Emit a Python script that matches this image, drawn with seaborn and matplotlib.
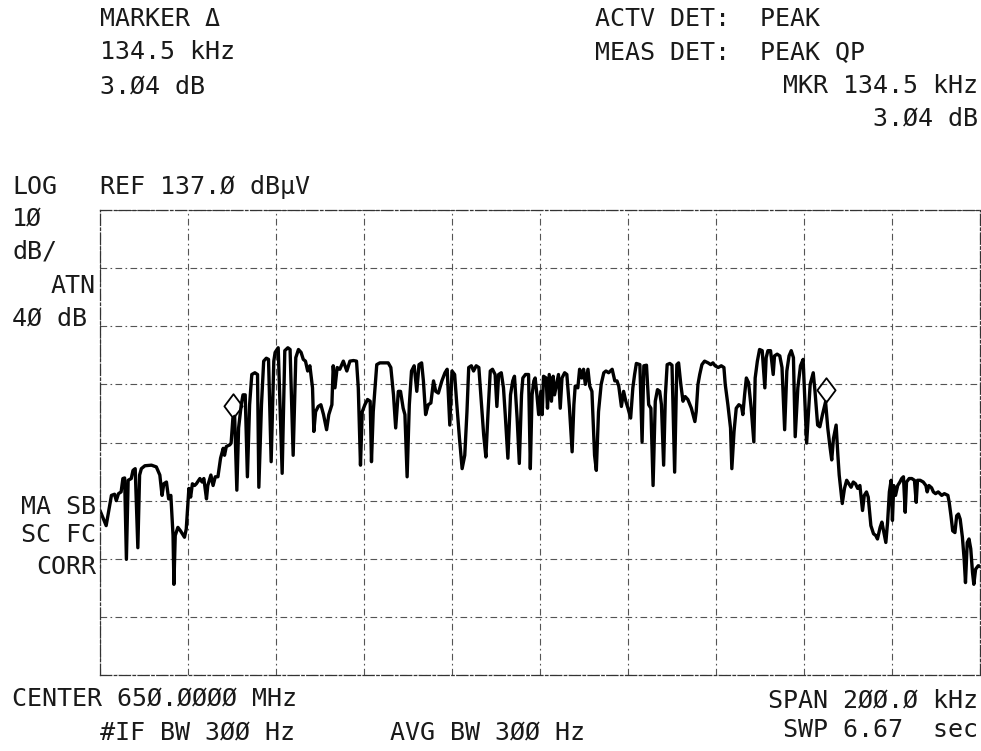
import numpy as np
import seaborn as sns
import matplotlib.pyplot as plt

sns.set_theme(style="white")
plt.rcParams['font.family'] = ['DejaVu Sans Mono', 'DejaVu Sans']

# trace: offset from centre [kHz] and level [dBuV]
freq_khz = [
    -100.0, -98.6, -97.4, -96.7, -96.3, -95.8, -95.2, -94.8, -94.4, -94.0,
    -93.6, -92.9, -92.5, -92.0, -91.4, -91.0, -90.6, -89.8, -88.3, -87.2,
    -86.4, -85.9, -85.5, -84.9, -84.4, -83.9, -83.4, -83.2, -82.9, -82.3,
    -81.7, -80.8, -80.4, -79.8, -79.4, -79.0, -78.5, -78.1, -77.3, -76.8,
    -76.4, -75.8, -75.5, -74.8, -74.3, -73.8, -73.2, -72.6, -72.0, -71.7,
    -71.3, -70.5, -70.2, -69.8, -69.4, -68.9, -68.5, -67.9, -67.5, -67.0,
    -66.5, -66.0, -65.5, -64.8, -64.2, -63.9, -63.3, -62.8, -62.2, -61.7,
    -61.1, -60.5, -60.2,
    -59.5, -58.6, -58.0, -57.3, -56.8, -56.1, -55.5, -54.9, -54.3, -53.8,
    -53.3, -52.8, -52.3, -51.7, -51.4, -51.0, -50.4, -49.8, -49.2, -48.5,
    -48.0, -47.3, -47.0, -46.6, -46.1, -45.5, -44.7, -43.9, -43.2, -42.4,
    -41.7, -41.3, -40.8, -40.4, -39.8, -39.2, -38.6, -38.3, -37.9, -37.1,
    -36.4, -34.5, -33.9, -33.3, -32.8, -32.2, -31.7, -31.1, -30.7, -30.2,
    -29.7, -29.2, -28.6, -28.0, -27.5, -26.9, -26.5, -26.0, -25.4, -24.8,
    -24.2, -23.7, -23.1, -22.3, -21.6, -21.1, -20.5,
    -20.0, -19.4, -18.9, -18.3, -17.7, -17.1, -16.6, -16.2, -15.6, -15.1,
    -14.5, -13.9, -13.3, -12.8, -12.3, -11.8, -11.3, -10.8, -10.2, -9.8,
    -9.4, -8.8, -8.3, -7.9, -7.3, -6.7, -6.2, -5.8, -5.2, -4.7,
    -4.2, -3.9, -3.3, -2.6, -2.2, -1.8, -1.4, -1.1, -0.7, -0.3,
    0.2, 0.5, 0.8, 1.4, 1.7, 2.1, 2.6, 3.0, 3.3, 3.9,
    4.2, 4.6, 5.0, 5.6, 6.1, 6.7, 7.3, 7.7, 8.0, 8.6,
    9.0, 9.5, 9.9, 10.3, 10.9, 11.3, 11.8, 12.4, 12.8, 13.3,
    13.9, 14.5, 15.0, 15.6, 16.4, 17.0, 17.5, 17.9, 18.5, 19.0, 19.5,
    20.0, 20.6, 21.1, 21.5, 21.9, 22.7, 23.2, 23.6, 24.2, 24.7,
    25.2, 25.7, 26.2, 26.7, 27.2, 27.6, 28.1, 28.5, 28.9, 29.5,
    30.0, 30.6, 31.1, 31.5, 32.0, 32.5, 33.0, 33.6, 34.4, 35.2,
    35.5, 35.9, 36.3, 36.8, 37.4, 38.2, 38.8, 39.3, 39.8, 40.5,
    41.2, 41.8, 42.1, 42.7, 43.3, 43.6, 44.1, 44.6, 45.2, 45.8,
    46.1, 46.5, 46.9, 47.4, 48.0, 48.6, 48.9, 49.4, 49.9, 50.5,
    51.1, 51.4, 51.8, 52.4, 53.0, 53.3, 53.9, 54.5, 55.0, 55.6,
    56.1, 56.6, 57.1, 57.6, 58.0, 58.6, 59.2, 59.8,
    60.6, 61.4, 62.1, 62.5, 63.1, 63.6, 64.2, 64.9, 65.4, 65.9,
    66.3, 66.7, 67.3, 67.7, 68.0, 68.7, 69.2, 69.7, 70.2, 70.7,
    71.2, 71.7, 72.2, 72.7, 73.3, 73.7, 74.2, 74.6, 75.2, 75.8,
    76.3, 76.7, 77.3, 77.7, 78.2, 78.6, 79.0, 79.4, 79.8, 80.1,
    80.4, 80.8, 81.3, 81.8, 82.2, 82.6, 83.0, 83.3, 83.9, 84.5,
    85.1, 85.5, 85.8, 86.4, 87.1, 87.7, 88.0, 88.4, 89.0, 89.4,
    89.9, 90.5, 91.3, 91.9, 92.7, 93.0, 93.4, 93.8, 94.3, 94.7,
    95.1, 95.5, 96.0, 96.4, 96.7, 97.1, 97.5, 97.9, 98.3, 98.6,
    99.0, 99.6, 100.0,
]
level_db = [
    85.3, 82.7, 87.9, 88.1, 87.0, 88.2, 88.5, 90.8, 90.9, 76.9,
    90.5, 90.8, 92.2, 92.5, 78.9, 91.4, 92.5, 93.0, 93.1, 92.8,
    91.4, 87.9, 89.9, 90.2, 87.3, 87.9, 81.0, 72.6, 81.0, 82.4,
    81.8, 80.7, 82.1, 89.1, 87.6, 89.9, 89.6, 89.9, 90.8, 90.2,
    90.8, 87.3, 89.6, 91.4, 89.6, 91.1, 91.1, 94.3, 96.0, 94.8,
    96.3, 96.6, 96.9, 101.2, 101.5, 88.8, 99.5, 103.5, 105.2, 105.2,
    91.1, 103.5, 108.7, 109.0, 108.7, 89.3, 103.5, 111.0, 111.5, 111.3,
    93.7, 111.0, 112.5,
    113.3, 91.7, 112.8, 113.3, 113.0, 94.8, 111.6, 113.0, 112.5, 111.3,
    111.0, 109.3, 110.2, 106.4, 98.9, 102.3, 103.2, 103.5, 101.8, 99.2,
    101.8, 103.5, 110.2, 106.4, 109.9, 109.6, 111.0, 109.3, 111.0, 111.1,
    111.0, 106.4, 93.1, 102.3, 103.5, 104.4, 104.1, 93.7, 102.3, 110.4,
    110.7, 110.7, 109.9, 105.2, 99.5, 105.8, 105.8, 102.9, 101.8, 91.1,
    103.5, 109.3, 110.2, 105.8, 110.4, 110.7, 107.6, 101.8, 103.5, 103.8,
    107.6, 105.8, 105.5, 107.6, 109.0, 109.6, 100.0,
    109.3, 108.7, 103.5, 97.7, 92.5, 94.8, 102.3, 109.9, 110.2, 109.3,
    110.2, 109.9, 103.5, 98.3, 94.5, 102.3, 109.3, 109.6, 108.7, 103.2,
    108.7, 109.0, 106.4, 101.8, 94.3, 105.2, 107.6, 108.4, 101.2, 93.4,
    105.2, 108.1, 108.7, 108.7, 92.5, 105.2, 107.6, 108.1, 105.2, 101.8,
    105.8, 101.8, 108.4, 108.1, 102.9, 108.7, 104.1, 108.4, 105.2, 107.6,
    108.7, 102.9, 108.1, 109.0, 108.7, 102.9, 95.4, 103.5, 106.7, 106.4,
    109.6, 108.1, 109.6, 107.0, 109.6, 106.7, 105.8, 94.8, 92.2, 102.3,
    107.0, 109.0, 109.3, 109.0, 109.6, 107.6, 107.6, 106.7, 103.2, 105.8, 104.1,
    102.9, 101.2, 106.4, 108.7, 110.6, 110.4, 97.1, 110.2, 110.3, 103.5,
    102.9, 89.6, 104.1, 106.1, 105.8, 103.5, 93.1, 105.2, 110.4, 110.6,
    110.3, 91.9, 110.4, 110.7, 107.0, 104.1, 104.9, 104.4, 102.9, 100.6,
    102.3, 107.0, 108.7, 110.4, 111.0, 110.7, 110.4, 110.7, 110.2, 109.9,
    110.2, 109.9, 107.0, 103.5, 99.5, 92.5, 98.9, 102.9, 103.5, 103.2,
    101.8, 105.2, 108.1, 107.3, 102.9, 97.1, 108.1, 111.0, 113.0, 112.8,
    106.4, 111.6, 112.8, 112.8, 108.7, 111.9, 112.2, 111.9, 109.9, 99.2,
    109.3, 111.9, 112.8, 111.6, 98.0, 106.4, 110.2, 111.3,
    96.9, 107.0, 109.0, 105.8, 100.0, 99.7, 101.8, 104.0, 99.5, 96.3,
    94.0, 97.7, 100.0, 94.8, 91.4, 86.5, 89.1, 90.5, 89.9, 89.3,
    90.2, 89.9, 89.1, 89.6, 85.3, 87.9, 88.5, 87.6, 82.7, 81.3,
    81.0, 80.4, 82.4, 83.3, 81.3, 79.8, 83.3, 88.5, 90.5, 83.6,
    89.6, 87.9, 89.6, 90.2, 90.8, 91.1, 85.0, 90.2, 90.8, 90.8,
    90.5, 86.7, 90.5, 90.5, 90.2, 89.6, 88.5, 89.6, 89.2, 88.5,
    88.2, 88.5, 87.9, 88.2, 87.9, 86.7, 84.4, 81.8, 81.5, 84.4,
    84.7, 83.8, 80.7, 76.9, 72.9, 79.8, 80.4, 78.7, 74.6, 72.6,
    75.2, 75.8, 75.7,
]

# the two delta markers (diamonds sit with their lower tip on the trace)
marker_khz = [-69.8, 64.9]
marker_db = [101.2, 104.0]

ref_level = 137.0
db_per_div = 10
span_khz = 200.0

W, H = 981, 751
fig = plt.figure(figsize=(W / 100, H / 100), dpi=100)
ax = fig.add_axes([100 / W, 1 - 675 / H, 880 / W, 465 / H])

sns.lineplot(x=freq_khz, y=level_db, ax=ax, color='black', lw=2.4,
             estimator=None, sort=False)

tip_diamond = [(0, 0), (0.75, 1), (0, 2), (-0.75, 1), (0, 0)]
ax.plot(marker_khz, marker_db, ls='none', marker=tip_diamond, ms=35,
        mfc='none', mec='black', mew=1.3, zorder=5)

ax.set_xlim(-span_khz / 2, span_khz / 2)
ax.set_ylim(ref_level - 8 * db_per_div, ref_level)
ax.set_xticks(np.arange(-100, 101, 20))
ax.set_yticks(np.arange(ref_level - 80, ref_level + 1, db_per_div))
ax.tick_params(length=0, labelbottom=False, labelleft=False)
ax.set_xlabel('')
ax.set_ylabel('')
ax.grid(True, color='#555555', lw=0.8, ls=(0, (6, 3, 1.5, 3)))
for sp in ax.spines.values():
    sp.set_color('#333333')
    sp.set_linewidth(0.9)
    sp.set_linestyle((0, (9, 2, 2, 2)))


def put(x, y, s, ha='left'):
    fig.text(x / W, 1 - y / H, s, ha=ha, va='center', fontsize=18,
             color='#1a1a1a')


# header
put(100, 19, 'MARKER Δ')
put(100, 52, '134.5 kHz')
put(100, 86, '3.Ø4 dB')
put(595, 19, 'ACTV DET:  PEAK')
put(595, 52, 'MEAS DET:  PEAK QP')
put(978, 86, 'MKR 134.5 kHz', ha='right')
put(978, 119, '3.Ø4 dB', ha='right')

# left annotations
put(12, 187, 'LOG')
put(100, 187, 'REF 137.Ø dBµV')
put(12, 218, '1Ø')
put(12, 252, 'dB/')
put(96, 286, 'ATN', ha='right')
put(12, 318, '4Ø dB')
put(96, 507, 'MA SB', ha='right')
put(96, 535, 'SC FC', ha='right')
put(96, 567, 'CORR', ha='right')

# footer
put(12, 698, 'CENTER 65Ø.ØØØØ MHz')
put(978, 700, 'SPAN 2ØØ.Ø kHz', ha='right')
put(100, 733, '#IF BW 3ØØ Hz')
put(487, 733, 'AVG BW 3ØØ Hz', ha='center')
put(978, 730, 'SWP 6.67  sec', ha='right')

fig.savefig('out.png', dpi=100)
